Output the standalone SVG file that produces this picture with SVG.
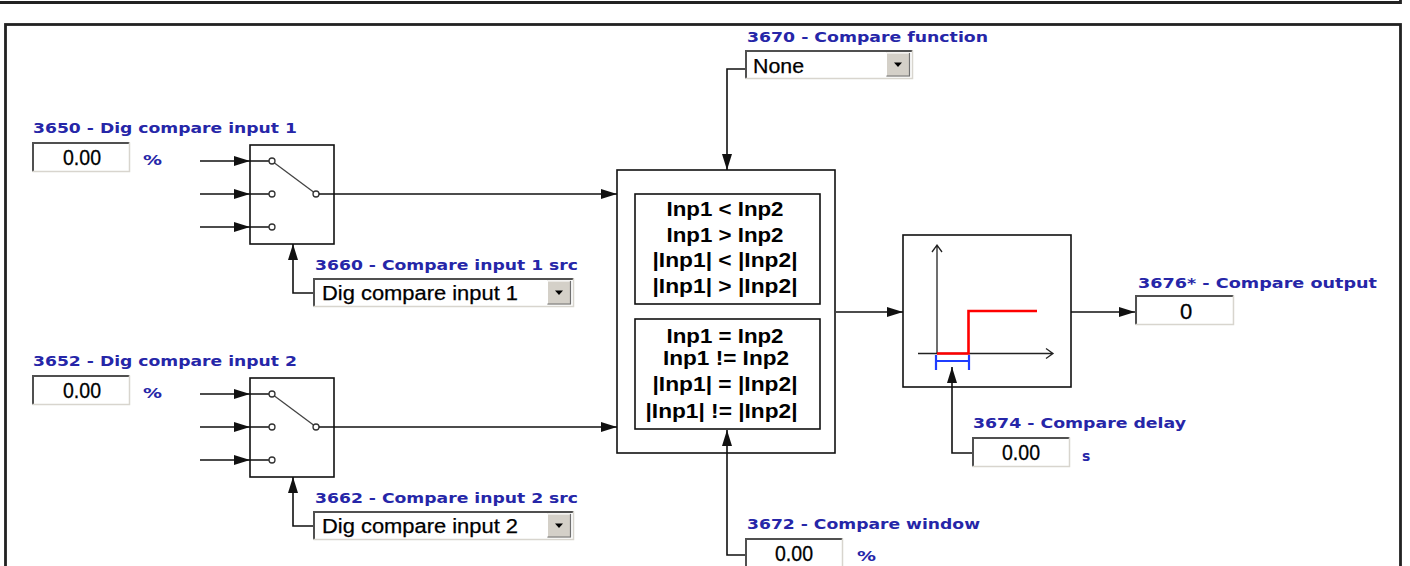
<svg xmlns="http://www.w3.org/2000/svg" xmlns:xlink="http://www.w3.org/1999/xlink" width="1410" height="566" viewBox="0 0 1410 566">
<style>
.lbl{font-family:"DejaVu Sans",Verdana,sans-serif;font-weight:bold;font-size:14.5px;fill:#2626a8}
.unit{font-family:"DejaVu Sans",Verdana,sans-serif;font-weight:bold;font-size:14px;fill:#2626a8}
.val{font-family:"Liberation Sans",Arial,sans-serif;font-size:22px;fill:#000;text-anchor:middle;stroke:#000;stroke-width:0.3}
.dd{font-family:"Liberation Sans",Arial,sans-serif;font-size:20px;fill:#000;stroke:#000;stroke-width:0.25}
.op{font-family:"Liberation Sans",Arial,sans-serif;font-weight:bold;font-size:20px;fill:#000;text-anchor:middle}
.box{fill:#fff;stroke:#111;stroke-width:1.6}
.ln{fill:none;stroke:#111;stroke-width:1.6}
.arr{marker-end:url(#ah)}
.pin{fill:#fff;stroke:#333;stroke-width:1.3}
.frame{fill:none;stroke:#222;stroke-width:2.8}
</style>
<defs>
<marker id="ah" markerUnits="userSpaceOnUse" markerWidth="16" markerHeight="12" refX="16" refY="6" orient="auto" viewBox="0 0 16 12">
<path d="M0,1 L16,6 L0,11 z" fill="#111"/>
</marker>
<g id="vb">
<rect x="0" y="0" width="98" height="30" fill="#fff"/>
<path d="M1,29.5 V1 H97.5" fill="none" stroke="#505050" stroke-width="2"/>
<path d="M0.5,29.5 H97.5 V0.5" fill="none" stroke="#d8d5ce" stroke-width="1.5"/>
</g>
<g id="btn">
<rect x="0" y="0" width="24" height="24" fill="#d4d0c8"/>
<path d="M0.5,23.5 V0.5 H23.5" fill="none" stroke="#fff" stroke-width="1"/>
<path d="M0.5,23.5 H23.5 V0.5" fill="none" stroke="#707070" stroke-width="1.2"/>
<path d="M8,10 H16 L12,14.5 z" fill="#000"/>
</g>
</defs>

<rect width="1410" height="566" fill="#fff"/>

<g id="frame">
<path class="frame" d="M0,2.5 H1400.5 V0"/>
<rect class="frame" x="5.5" y="24.5" width="1395" height="600"/>
</g>

<g id="in1">
<text class="lbl" x="33" y="133" textLength="264" lengthAdjust="spacingAndGlyphs">3650 - Dig compare input 1</text>
<use xlink:href="#vb" x="32" y="142"/>
<text class="val" x="82" y="165" textLength="38" lengthAdjust="spacingAndGlyphs">0.00</text>
<text class="unit" x="143" y="165" textLength="19" lengthAdjust="spacingAndGlyphs">%</text>
</g>

<g id="sw1">
<rect class="box" x="250" y="145" width="84" height="99"/>
<path class="ln" d="M250,161 H269 M250,194 H269 M250,227 H269"/>
<path d="M274.5,163 L313.5,192" stroke="#444" stroke-width="1.3" fill="none"/>
<circle class="pin" cx="272" cy="161" r="3"/>
<circle class="pin" cx="272" cy="194" r="3"/>
<circle class="pin" cx="272" cy="227" r="3"/>
<circle class="pin" cx="316" cy="194" r="3"/>
</g>

<g id="src1">
<text class="lbl" x="315" y="270" textLength="263" lengthAdjust="spacingAndGlyphs">3660 - Compare input 1 src</text>
<rect x="313" y="278" width="261" height="29" fill="#fff"/>
<path d="M314,306.5 V279 H573.5" fill="none" stroke="#505050" stroke-width="2"/>
<path d="M313.5,306.5 H573.5 V278.5" fill="none" stroke="#d8d5ce" stroke-width="1.5"/>
<use xlink:href="#btn" x="547" y="280.5"/>
<text class="dd" x="322" y="300" textLength="196" lengthAdjust="spacingAndGlyphs">Dig compare input 1</text>
</g>

<g id="in2">
<text class="lbl" x="33" y="366" textLength="264" lengthAdjust="spacingAndGlyphs">3652 - Dig compare input 2</text>
<use xlink:href="#vb" x="32" y="375"/>
<text class="val" x="82" y="398" textLength="38" lengthAdjust="spacingAndGlyphs">0.00</text>
<text class="unit" x="143" y="398" textLength="19" lengthAdjust="spacingAndGlyphs">%</text>
</g>

<g id="sw2">
<rect class="box" x="250" y="378" width="84" height="99"/>
<path class="ln" d="M250,394 H269 M250,427 H269 M250,460 H269"/>
<path d="M274.5,396 L313.5,425" stroke="#444" stroke-width="1.3" fill="none"/>
<circle class="pin" cx="272" cy="394" r="3"/>
<circle class="pin" cx="272" cy="427" r="3"/>
<circle class="pin" cx="272" cy="460" r="3"/>
<circle class="pin" cx="316" cy="427" r="3"/>
</g>

<g id="src2">
<text class="lbl" x="315" y="503" textLength="263" lengthAdjust="spacingAndGlyphs">3662 - Compare input 2 src</text>
<rect x="313" y="511" width="261" height="29" fill="#fff"/>
<path d="M314,539.5 V512 H573.5" fill="none" stroke="#505050" stroke-width="2"/>
<path d="M313.5,539.5 H573.5 V511.5" fill="none" stroke="#d8d5ce" stroke-width="1.5"/>
<use xlink:href="#btn" x="547" y="513.5"/>
<text class="dd" x="322" y="533" textLength="196" lengthAdjust="spacingAndGlyphs">Dig compare input 2</text>
</g>

<g id="func">
<text class="lbl" x="747" y="42" textLength="241" lengthAdjust="spacingAndGlyphs">3670 - Compare function</text>
<rect x="745" y="50" width="168" height="29" fill="#fff"/>
<path d="M746,78.5 V51 H912.5" fill="none" stroke="#505050" stroke-width="2"/>
<path d="M745.5,78.5 H912.5 V50.5" fill="none" stroke="#d8d5ce" stroke-width="1.5"/>
<use xlink:href="#btn" x="886" y="52.5"/>
<text class="dd" x="753" y="73" textLength="51" lengthAdjust="spacingAndGlyphs">None</text>
</g>

<g id="compare">
<rect class="box" x="617" y="170" width="218" height="283"/>
<rect class="box" x="635" y="194" width="185" height="110"/>
<rect class="box" x="635" y="319" width="185" height="110"/>
<text class="op" x="725" y="216" textLength="117" lengthAdjust="spacingAndGlyphs">Inp1 &lt; Inp2</text>
<text class="op" x="725" y="242" textLength="117" lengthAdjust="spacingAndGlyphs">Inp1 &gt; Inp2</text>
<text class="op" x="725" y="267" textLength="145" lengthAdjust="spacingAndGlyphs">|Inp1| &lt; |Inp2|</text>
<text class="op" x="725" y="293" textLength="145" lengthAdjust="spacingAndGlyphs">|Inp1| &gt; |Inp2|</text>
<text class="op" x="725" y="343" textLength="117" lengthAdjust="spacingAndGlyphs">Inp1 = Inp2</text>
<text class="op" x="726" y="365" textLength="126" lengthAdjust="spacingAndGlyphs">Inp1 != Inp2</text>
<text class="op" x="725" y="391" textLength="145" lengthAdjust="spacingAndGlyphs">|Inp1| = |Inp2|</text>
<text class="op" x="721.5" y="418" textLength="152" lengthAdjust="spacingAndGlyphs">|Inp1| != |Inp2|</text>
</g>

<g id="window">
<text class="lbl" x="747" y="529" textLength="233" lengthAdjust="spacingAndGlyphs">3672 - Compare window</text>
<use xlink:href="#vb" x="745" y="538"/>
<text class="val" x="794" y="561" textLength="38" lengthAdjust="spacingAndGlyphs">0.00</text>
<text class="unit" x="857" y="561" textLength="19" lengthAdjust="spacingAndGlyphs">%</text>
</g>

<g id="delayblock">
<rect class="box" x="903" y="235" width="168" height="152"/>
<path d="M937,353 V245 M932,252 L937,245 L942,252" fill="none" stroke="#222" stroke-width="1.3"/>
<path d="M918,353.5 H1053 M1046,348.5 L1053,353.5 L1046,358.5" fill="none" stroke="#222" stroke-width="1.3"/>
<path d="M937,353.5 H968.5 V311 H1037" fill="none" stroke="#ff0000" stroke-width="2.6"/>
<path d="M936,355 V370 M969,355 V370 M936,361 H969" fill="none" stroke="#1f3dff" stroke-width="2.2"/>
</g>

<g id="delay">
<text class="lbl" x="973" y="428" textLength="213" lengthAdjust="spacingAndGlyphs">3674 - Compare delay</text>
<use xlink:href="#vb" x="972" y="437"/>
<text class="val" x="1021" y="460" textLength="38" lengthAdjust="spacingAndGlyphs">0.00</text>
<text class="unit" x="1082" y="461">s</text>
</g>

<g id="output">
<text class="lbl" x="1138" y="288" textLength="239" lengthAdjust="spacingAndGlyphs">3676* - Compare output</text>
<use xlink:href="#vb" x="1135" y="295" transform="translate(-11.35 0) scale(1.01 1)"/>
<text class="val" x="1186" y="319">0</text>
</g>

<g id="connectors">
<path class="ln arr" d="M200,161 H250"/>
<path class="ln arr" d="M200,194 H250"/>
<path class="ln arr" d="M200,227 H250"/>
<path class="ln arr" d="M200,394 H250"/>
<path class="ln arr" d="M200,427 H250"/>
<path class="ln arr" d="M200,460 H250"/>
<path class="ln arr" d="M319,194 H617"/>
<path class="ln arr" d="M319,427 H617"/>
<path class="ln arr" d="M313,293 H293 V244"/>
<path class="ln arr" d="M313,526 H293 V477"/>
<path class="ln arr" d="M745,69 H727 V170"/>
<path class="ln arr" d="M745,555 H727 V430"/>
<path class="ln arr" d="M836,312 H903"/>
<path class="ln arr" d="M972,453 H952 V367"/>
<path class="ln arr" d="M1071,312 H1135"/>
</g>
</svg>
